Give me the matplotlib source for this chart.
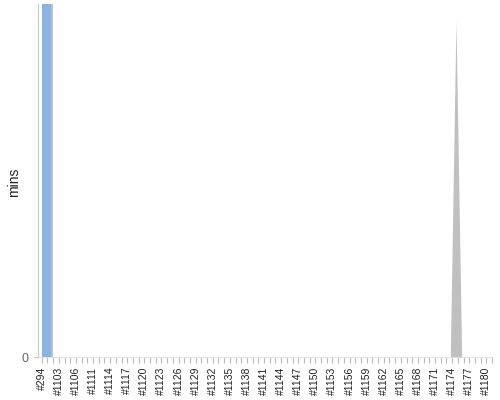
import numpy as np
import matplotlib
matplotlib.use('Agg')
from matplotlib import pyplot as plt

plt.rcParams['font.family'] = ['Liberation Sans', 'DejaVu Sans']

# build ids: #294 first, then the 11xx run (two ids between 1106 and 1111 are guesses)
builds = ['#294', '#1101', '#1102', '#1103', '#1104', '#1105', '#1106', '#1107', '#1109']
builds += ['#%d' % n for n in range(1111, 1182)]

# blue bars (mins) - only the first build has a value
bar_mins = np.zeros(len(builds))
bar_mins[0] = 100.0

# grey area series - one spike near #1174/#1175
area_mins = np.zeros(len(builds))
area_mins[builds.index('#1175')] = 95.5


def main():
    fig = plt.figure(figsize=(5, 4), dpi=100)
    ax = fig.add_axes([0.076, 0.1075, 0.908, 0.8825])

    x = np.arange(len(builds))

    # area drawn at category centres
    ax.fill_between(x - 0.32, area_mins, 0, color='#c0c0c0', lw=0, zorder=2)

    # bar with a grey edge on the right
    ax.bar(x + 1.2, bar_mins, width=1.6, color='#c0c0c0', lw=0, zorder=3)
    ax.bar(x + 0.8, bar_mins, width=1.6, color='#8db3e2', lw=0, zorder=4)

    ax.set_xlim(-0.65, 79.0)
    ax.set_ylim(0, bar_mins.max())

    ax.set_xticks(x)
    ax.set_xticklabels([b if i % 3 == 0 else '' for i, b in enumerate(builds)],
                       rotation=90, fontsize=7.5, color='#222222')
    ax.set_yticks([0])
    ax.set_yticklabels(['0'], fontsize=9, color='#666666')
    ax.tick_params(axis='x', length=4, width=0.8, color='#bbbbbb', pad=3)
    ax.tick_params(axis='y', length=3, width=0.8, color='#bbbbbb', pad=4)

    for side in ('top', 'right'):
        ax.spines[side].set_visible(False)
    ax.spines['left'].set_color('#c8c8c8')
    ax.spines['bottom'].set_color('#dddddd')
    ax.spines['bottom'].set_linewidth(0.6)

    ax.set_ylabel('mins', fontsize=10, color='#222222')
    ax.yaxis.label.set_va('center')
    ax.yaxis.set_label_coords(-0.053, 0.495)

    plt.savefig('out.png')


if __name__ == '__main__':
    main()
